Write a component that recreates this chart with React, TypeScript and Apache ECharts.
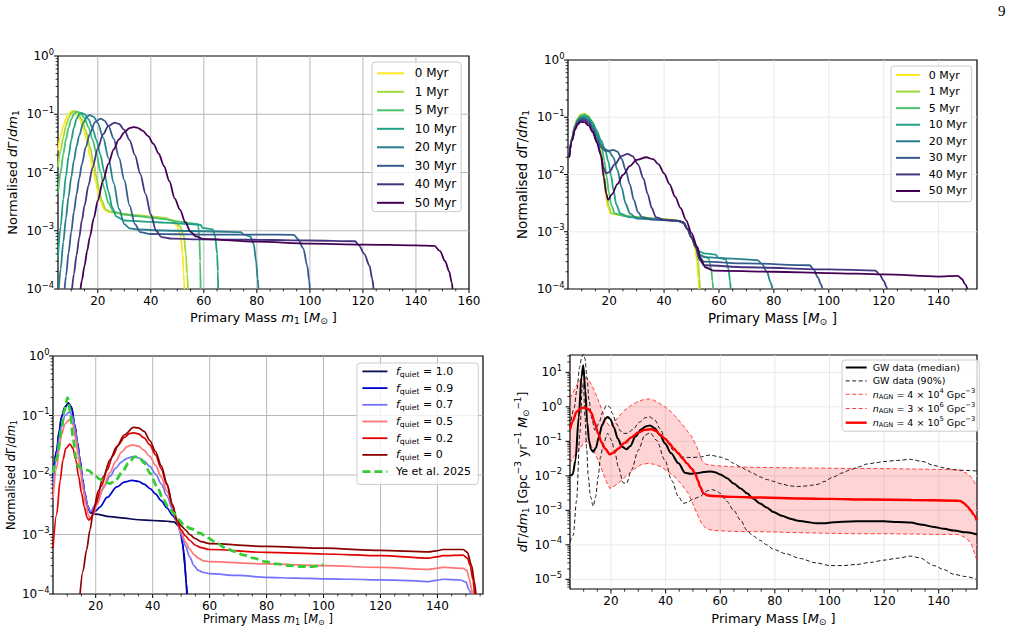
import React, { useEffect, useRef } from 'react';
import * as echarts from 'echarts';

type Pt = [number, number];

const FONT = 'DejaVu Sans';

// ---------------- Top-left: single-peak model, several AGN ages ----------------
const AGE_LABELS = ['0 Myr', '1 Myr', '5 Myr', '10 Myr', '20 Myr', '30 Myr', '40 Myr', '50 Myr'];
const AGE_COLORS = ['#fde725', '#a0da39', '#4ac16d', '#1fa187', '#277f8e', '#365c8d', '#46327e', '#440154'];

const ageA0: Pt[] = [[5, 0.024], [6, 0.042], [7, 0.062], [8, 0.083], [9, 0.102], [10.4, 0.114], [11.5, 0.108], [13, 0.087], [14.5, 0.058], [16, 0.033], [17.2, 0.018], [18.2, 0.011], [19.2, 0.0071], [20.2, 0.0044], [21.2, 0.0031], [22.5, 0.0023], [24, 0.0021], [30, 0.0019], [35, 0.0018], [40, 0.00174], [45, 0.00166], [47.8, 0.0015], [50, 0.0012], [51.3, 0.0008], [52, 0.0004], [52.4, 0.00018], [52.7, 0.0001]];
const ageA1: Pt[] = [[5, 0.0125], [6, 0.024], [7, 0.041], [8, 0.063], [9, 0.086], [10, 0.105], [11.2, 0.114], [12.5, 0.106], [14, 0.082], [15.5, 0.052], [17, 0.028], [18.5, 0.014], [19.5, 0.0083], [20.5, 0.005], [21.5, 0.0033], [23, 0.0023], [25, 0.0021], [30, 0.00195], [35, 0.00185], [40, 0.00176], [45, 0.00166], [48.5, 0.0015], [51, 0.0012], [52.5, 0.0008], [53.2, 0.0004], [53.7, 0.00018], [54, 0.0001]];
const ageA5: Pt[] = [[5, 0.0044], [6, 0.0102], [7, 0.0207], [8, 0.037], [9, 0.059], [10, 0.082], [11, 0.101], [12.2, 0.111], [13.5, 0.105], [15, 0.086], [16.5, 0.06], [18, 0.037], [19.5, 0.021], [21, 0.0103], [22.5, 0.0052], [24, 0.003], [26, 0.0021], [30, 0.0019], [35, 0.00178], [40, 0.00168], [45, 0.00158], [50, 0.00145], [55, 0.00135], [57.8, 0.0013], [58.3, 0.0008], [58.6, 0.0003], [58.8, 0.0001]];
const ageA10: Pt[] = [[5, 0.00035], [6, 0.0012], [7, 0.0035], [8, 0.0088], [9, 0.019], [10, 0.036], [11, 0.059], [12, 0.083], [13, 0.1], [13.8, 0.105], [15, 0.1], [16.5, 0.082], [18, 0.058], [19.5, 0.036], [21, 0.02], [22.5, 0.0099], [24, 0.0047], [25.5, 0.0025], [27, 0.00175], [30, 0.0015], [35, 0.00146], [40, 0.00142], [45, 0.00138], [50, 0.00134], [55, 0.0013], [58.8, 0.00126], [59.5, 0.00112], [63.3, 0.00106], [64.3, 0.0008], [65, 0.0004], [65.3, 0.0002], [65.4, 0.0001]];
const ageA20: Pt[] = [[5.3, 0.0001], [6, 0.00022], [7, 0.00064], [8, 0.00165], [9, 0.0039], [10, 0.0083], [11, 0.016], [12, 0.028], [13, 0.043], [14.5, 0.071], [16, 0.092], [17, 0.097], [18.5, 0.09], [20, 0.0705], [22, 0.04], [24, 0.018], [26, 0.0066], [28, 0.0024], [30, 0.0013], [32, 0.0011], [35, 0.00105], [45, 0.00101], [55, 0.00099], [65, 0.00097], [74, 0.00095], [75, 0.00086], [77.5, 0.0008], [78.8, 0.0006], [79.7, 0.0003], [80.3, 0.00015], [80.6, 0.0001]];
const ageA30: Pt[] = [[7.5, 0.0001], [8, 0.000165], [9, 0.00042], [10, 0.00096], [11, 0.0021], [12, 0.0042], [13, 0.0079], [14, 0.0138], [15.5, 0.0275], [17, 0.046], [19, 0.073], [21, 0.084], [22.5, 0.078], [24, 0.063], [26, 0.038], [28, 0.018], [30, 0.0074], [32, 0.0027], [34, 0.0013], [36, 0.00095], [40, 0.00088], [50, 0.00087], [60, 0.00086], [80, 0.00086], [94, 0.00085], [95.5, 0.00072], [97.5, 0.0005], [99, 0.00025], [99.7, 0.00014], [100, 0.0001]];
const ageA40: Pt[] = [[10.3, 0.0001], [11, 0.00018], [12, 0.00038], [13, 0.00076], [14, 0.0015], [15, 0.0027], [16.5, 0.006], [18, 0.012], [20, 0.026], [22, 0.045], [24, 0.063], [26.4, 0.072], [28, 0.068], [30, 0.054], [32, 0.036], [34, 0.02], [36, 0.0096], [38, 0.0043], [40, 0.0019], [42, 0.001], [44, 0.00078], [48, 0.00073], [60, 0.00071], [80, 0.0007], [100, 0.00068], [117, 0.00066], [118.5, 0.00056], [120.5, 0.0004], [122.5, 0.00025], [123.5, 0.00015], [124, 0.0001]];
const ageA50: Pt[] = [[13.5, 0.0001], [14, 0.00014], [15, 0.00025], [16, 0.00045], [17, 0.00078], [18.5, 0.00165], [20, 0.0033], [22, 0.0073], [24, 0.014], [26, 0.025], [28, 0.037], [30, 0.049], [32, 0.058], [33.5, 0.06], [35, 0.0585], [37, 0.052], [39, 0.042], [41, 0.031], [43, 0.021], [45, 0.0128], [47, 0.0071], [49, 0.0036], [51, 0.0023], [53, 0.0014], [55, 0.00096], [57, 0.0008], [60, 0.00072], [80, 0.00065], [100, 0.0006], [120, 0.00058], [140, 0.00056], [147, 0.00055], [149, 0.00045], [151, 0.0003], [152.5, 0.0002], [153.5, 0.00013], [153.8, 0.0001]];
const AGES_A = [ageA0, ageA1, ageA5, ageA10, ageA20, ageA30, ageA40, ageA50];

// ---------------- Top-right: two-peak model, several AGN ages ----------------
const ageB0: Pt[] = [[5.4, 0.02], [6.5, 0.045], [7.5, 0.072], [8.5, 0.095], [9.5, 0.11], [10.8, 0.116], [12, 0.108], [13.3, 0.088], [14.5, 0.066], [15.5, 0.047], [16.5, 0.03], [17.3, 0.017], [18, 0.0085], [18.7, 0.0045], [19.5, 0.0027], [20.5, 0.0021], [23, 0.002], [30, 0.0018], [40, 0.00166], [45, 0.00158], [47, 0.00145], [48.5, 0.00112], [50, 0.0008], [51.2, 0.00055], [52, 0.0003], [52.5, 0.00015], [52.7, 0.0001]];
const ageB1: Pt[] = [[5.4, 0.02], [6.5, 0.045], [7.5, 0.072], [8.5, 0.094], [9.5, 0.109], [11, 0.115], [12.2, 0.107], [13.5, 0.088], [14.7, 0.066], [15.7, 0.047], [16.7, 0.03], [17.6, 0.017], [18.3, 0.0088], [19, 0.0047], [19.8, 0.0028], [20.8, 0.0021], [24, 0.00195], [30, 0.0018], [40, 0.00165], [45, 0.00157], [47, 0.00145], [48.5, 0.00112], [50, 0.0008], [51.5, 0.00055], [52.4, 0.0003], [52.9, 0.00015], [53.1, 0.0001]];
const ageB5: Pt[] = [[5.4, 0.02], [6.5, 0.044], [7.5, 0.07], [8.5, 0.091], [9.5, 0.105], [11, 0.11], [12.3, 0.103], [13.6, 0.085], [15, 0.063], [16.2, 0.046], [17.3, 0.03], [18.3, 0.017], [19.1, 0.009], [19.9, 0.0048], [20.8, 0.0029], [22, 0.0021], [25, 0.0019], [30, 0.00178], [40, 0.00164], [45, 0.00156], [47, 0.00145], [48.5, 0.00112], [50, 0.0008], [51.5, 0.00055], [53, 0.0004], [54.5, 0.00037], [56.3, 0.00034], [57.2, 0.00022], [57.6, 0.00014], [57.9, 0.0001]];
const ageB10: Pt[] = [[5.4, 0.02], [6.5, 0.043], [7.5, 0.068], [8.5, 0.088], [9.5, 0.1], [11, 0.105], [12.5, 0.098], [14, 0.08], [15.5, 0.058], [17, 0.04], [18.5, 0.027], [19.7, 0.017], [20.7, 0.0095], [21.6, 0.0052], [22.6, 0.003], [24, 0.0021], [27, 0.0018], [35, 0.0017], [45, 0.00155], [47, 0.00145], [48.5, 0.00112], [50, 0.0008], [51.5, 0.00058], [53, 0.00045], [54.5, 0.00042], [58.8, 0.0004], [59.8, 0.00035], [62.5, 0.00033], [63.5, 0.00022], [64, 0.00014], [64.3, 0.0001]];
const ageB20: Pt[] = [[5.4, 0.02], [6.5, 0.042], [7.5, 0.066], [8.5, 0.085], [9.5, 0.096], [11, 0.098], [12.5, 0.09], [14, 0.07], [15.5, 0.048], [17, 0.034], [18.5, 0.028], [20, 0.025], [21.5, 0.02], [23, 0.012], [24.5, 0.006], [26, 0.0031], [27.5, 0.0021], [30, 0.0017], [35, 0.00165], [45, 0.00155], [47, 0.00145], [48.5, 0.00112], [50, 0.0008], [51.5, 0.00058], [53, 0.0004], [54.5, 0.00036], [65, 0.00034], [74, 0.00032], [75.5, 0.00028], [77.5, 0.0002], [78.8, 0.00013], [79.5, 0.0001]];
const ageB30: Pt[] = [[5.4, 0.02], [6.5, 0.041], [7.5, 0.064], [8.5, 0.082], [9.5, 0.092], [11, 0.093], [12.5, 0.085], [14, 0.064], [15.5, 0.042], [17, 0.03], [18.5, 0.026], [20, 0.026], [21.5, 0.027], [23, 0.025], [24.5, 0.019], [26, 0.012], [27.5, 0.0068], [29, 0.0036], [30.5, 0.0022], [32, 0.0018], [35, 0.00165], [45, 0.00155], [47, 0.00145], [48.5, 0.00112], [50, 0.0008], [51.5, 0.00056], [53, 0.00036], [54.5, 0.0003], [70, 0.00028], [93, 0.00026], [94.5, 0.00022], [96, 0.00016], [97.2, 0.00012], [97.7, 0.0001]];
const ageB40: Pt[] = [[5.4, 0.02], [6.5, 0.04], [7.5, 0.062], [8.5, 0.079], [9.5, 0.087], [11, 0.088], [12.5, 0.078], [14, 0.058], [15.5, 0.038], [17, 0.022], [18, 0.013], [18.8, 0.0105], [20, 0.011], [22, 0.015], [24.5, 0.021], [26.7, 0.023], [28.5, 0.021], [30.5, 0.015], [32.5, 0.0085], [34, 0.0046], [35.5, 0.0026], [37, 0.0018], [40, 0.0016], [45, 0.00155], [47, 0.00145], [48.5, 0.00112], [50, 0.0008], [51.5, 0.00054], [53, 0.00032], [54.5, 0.00026], [70, 0.00024], [100, 0.00022], [117, 0.00021], [118.5, 0.00018], [120, 0.00014], [121, 0.00011], [121.2, 0.0001]];
const ageB50: Pt[] = [[5.4, 0.02], [6.5, 0.039], [7.5, 0.06], [8.5, 0.075], [9.5, 0.082], [11, 0.082], [12.5, 0.072], [14, 0.055], [15.5, 0.036], [17, 0.022], [18, 0.009], [19, 0.0045], [19.6, 0.0036], [21, 0.0045], [23, 0.0068], [25, 0.0098], [27.5, 0.014], [30, 0.018], [33.5, 0.02], [36, 0.0185], [38, 0.015], [40, 0.0105], [42, 0.0068], [44, 0.0041], [46, 0.0026], [48, 0.0016], [50, 0.00095], [52, 0.00055], [53.5, 0.00032], [55, 0.00024], [58, 0.00021], [80, 0.0002], [100, 0.00019], [120, 0.00018], [140, 0.000165], [147, 0.00017], [148.5, 0.00015], [149.7, 0.00012], [150.5, 0.0001]];
const AGES_B = [ageB0, ageB1, ageB5, ageB10, ageB20, ageB30, ageB40, ageB50];

// ---------------- Bottom-left: mixture with quiet fraction ----------------
const FQ_LABELS = ['1.0', '0.9', '0.7', '0.5', '0.2', '0'];
const FQ_COLORS = ['#0b0b55', '#0000cc', '#7272ff', '#ff7474', '#e00000', '#8b0000'];

const fq10: Pt[] = [[5, 0.0093], [6.3, 0.026], [7.2, 0.055], [8, 0.095], [9.2, 0.14], [10.4, 0.163], [11.5, 0.14], [12.7, 0.068], [13.6, 0.035], [14.5, 0.018], [15.4, 0.0085], [16.2, 0.0049], [17.1, 0.0031], [18.2, 0.0023], [20, 0.0022], [25, 0.002], [30, 0.00188], [35, 0.00177], [40, 0.00172], [45, 0.00167], [47.5, 0.00163], [49, 0.0014], [50, 0.001], [51, 0.0005], [51.7, 0.00018], [52, 0.0001]];
const fq09: Pt[] = [[5, 0.0093], [6.3, 0.026], [7.2, 0.055], [8, 0.094], [9.2, 0.138], [10.4, 0.158], [11.5, 0.135], [12.7, 0.066], [13.6, 0.034], [14.5, 0.0175], [15.4, 0.0083], [16.2, 0.0048], [17.1, 0.003], [18.2, 0.0023], [20, 0.0025], [21.5, 0.0029], [24, 0.0042], [27.4, 0.0063], [30, 0.0076], [32.7, 0.0081], [35, 0.0078], [37, 0.007], [39.1, 0.0059], [41, 0.0048], [43, 0.0037], [45, 0.0028], [47, 0.0021], [48.4, 0.0017], [49.5, 0.0013], [50.5, 0.0007], [51.3, 0.0003], [51.8, 0.00015], [52.1, 0.0001]];
const fq07: Pt[] = [[5, 0.007], [6.3, 0.02], [7.2, 0.042], [8, 0.068], [9.2, 0.1], [10.8, 0.115], [12, 0.094], [12.9, 0.055], [13.8, 0.028], [14.7, 0.014], [15.5, 0.0075], [16.3, 0.0045], [17.2, 0.003], [18.2, 0.0024], [19.5, 0.003], [21, 0.0042], [23, 0.0065], [25, 0.0095], [27, 0.013], [29, 0.0165], [31, 0.019], [33, 0.0203], [35, 0.0195], [37, 0.0172], [39, 0.014], [41, 0.0104], [43, 0.0071], [45, 0.0045], [47, 0.0026], [48.5, 0.00165], [50, 0.001], [51.5, 0.00065], [53, 0.00042], [54.5, 0.0003], [56, 0.00025], [58, 0.00023], [60, 0.00022], [70, 0.000205], [80, 0.00019], [90, 0.000185], [100, 0.00018], [110, 0.000177], [120, 0.000173], [130, 0.000168], [137, 0.000162], [139.5, 0.00017], [142, 0.000177], [148, 0.000172], [150, 0.00016], [151, 0.00012], [151.8, 0.0001]];
const fq05: Pt[] = [[5, 0.004], [6.3, 0.013], [7.2, 0.03], [8, 0.048], [9.2, 0.072], [10.8, 0.085], [12, 0.07], [12.9, 0.042], [13.8, 0.022], [14.7, 0.011], [15.6, 0.0055], [16.5, 0.0032], [17.5, 0.0021], [18, 0.0019], [19, 0.0021], [20.5, 0.0032], [22.5, 0.0058], [25, 0.011], [27, 0.017], [29, 0.024], [31, 0.03], [33, 0.032], [35, 0.0305], [37, 0.026], [39, 0.0205], [41, 0.0145], [43, 0.0093], [45, 0.0054], [47, 0.0029], [48.5, 0.00165], [50, 0.0011], [51.5, 0.00075], [53, 0.00057], [54.5, 0.00046], [56, 0.0004], [58, 0.00036], [60, 0.00035], [80, 0.00032], [100, 0.0003], [120, 0.00028], [137, 0.00026], [139.5, 0.00027], [142, 0.00028], [149, 0.00027], [150.3, 0.00025], [151.2, 0.00018], [152, 0.00012], [152.3, 0.0001]];
const fq02: Pt[] = [[5, 0.0006], [6.3, 0.0022], [7.5, 0.008], [8.5, 0.018], [9.5, 0.028], [11, 0.033], [12, 0.028], [13, 0.018], [14, 0.0095], [15, 0.005], [16, 0.0029], [17, 0.0019], [17.6, 0.00175], [18.5, 0.0019], [20, 0.0032], [22, 0.0065], [24, 0.012], [26, 0.021], [28, 0.032], [30, 0.043], [32, 0.05], [33.5, 0.051], [35, 0.049], [37, 0.042], [39, 0.032], [41, 0.0218], [43, 0.0128], [45, 0.0068], [47, 0.0032], [48.5, 0.00165], [50, 0.0012], [51.5, 0.00095], [53, 0.0008], [55, 0.00066], [57, 0.0006], [60, 0.00056], [80, 0.0005], [100, 0.00047], [120, 0.00044], [137, 0.0004], [139.5, 0.00042], [142, 0.00044], [149, 0.00045], [150.5, 0.0004], [151.5, 0.0003], [152.5, 0.00017], [153, 0.0001]];
const fq00: Pt[] = [[14.5, 0.0001], [15.5, 0.00024], [16.8, 0.00055], [18, 0.0012], [19.2, 0.0026], [21, 0.0055], [22.7, 0.0094], [25, 0.018], [27.4, 0.03], [30, 0.047], [33.3, 0.063], [35, 0.062], [37, 0.054], [39, 0.038], [41, 0.0248], [43, 0.0144], [45, 0.0072], [47, 0.003], [48.5, 0.0018], [50, 0.0014], [51.5, 0.0012], [53, 0.001], [55, 0.00085], [57, 0.00076], [60, 0.0007], [80, 0.00063], [100, 0.00059], [120, 0.00054], [137, 0.00051], [139.5, 0.00053], [142, 0.00056], [149, 0.00056], [150.5, 0.0005], [152, 0.0003], [153, 0.00016], [153.5, 0.0001]];
const FQ_SERIES = [fq10, fq09, fq07, fq05, fq02, fq00];
const yeEtAl2025: Pt[] = [[5, 0.0107], [6.5, 0.02], [8, 0.06], [9, 0.12], [10.1, 0.2], [11, 0.12], [12, 0.045], [13, 0.02], [13.9, 0.0138], [15.5, 0.0128], [17.4, 0.012], [19.5, 0.01], [21.5, 0.0085], [23.5, 0.0075], [25, 0.0072], [27, 0.0082], [29.5, 0.0115], [31.5, 0.016], [33.8, 0.0204], [35.5, 0.019], [37, 0.016], [39.1, 0.0107], [41.5, 0.0064], [43.8, 0.0038], [45.5, 0.0029], [47.3, 0.0023], [49, 0.0018], [50.9, 0.00145], [53.5, 0.00125], [56.7, 0.00105], [59.5, 0.00087], [62.6, 0.00071], [65.5, 0.0006], [68.5, 0.00052], [72, 0.00045], [75.5, 0.0004], [79.5, 0.00035], [83.7, 0.00032], [88, 0.0003], [92, 0.00029], [96, 0.00029], [100, 0.00031]];

// ---------------- Bottom-right: GW population vs AGN density ----------------
const gwMedian: Pt[] = [[5, 0.0098], [6, 0.011], [7, 0.028], [8.2, 0.5], [9.2, 7.4], [9.85, 16], [10.6, 3], [11.3, 0.35], [12, 0.1], [12.7, 0.058], [13.5, 0.05], [14.5, 0.065], [15.5, 0.13], [16.8, 0.3], [18, 0.46], [18.8, 0.51], [19.8, 0.44], [21, 0.26], [22.5, 0.12], [24, 0.07], [25.7, 0.059], [27, 0.072], [29, 0.14], [31, 0.22], [32.7, 0.27], [34.3, 0.29], [36, 0.24], [38, 0.15], [39.8, 0.087], [42, 0.045], [44.7, 0.023], [47.1, 0.0123], [49, 0.0115], [51.4, 0.0118], [54, 0.013], [56.3, 0.0134], [58, 0.0128], [60, 0.011], [62.5, 0.0085], [64.9, 0.006], [67.5, 0.0043], [69.8, 0.0031], [72, 0.0022], [74.6, 0.00158], [77, 0.0012], [79.5, 0.00089], [82.5, 0.0007], [85.6, 0.00057], [88.5, 0.0005], [91.8, 0.00046], [95, 0.00042], [98, 0.00042], [101.5, 0.00045], [105, 0.00047], [110, 0.00048], [115, 0.00048], [120, 0.00048], [125, 0.00046], [129.7, 0.00044], [134, 0.00038], [138.2, 0.00033], [142, 0.00029], [145.5, 0.00026], [150, 0.00023], [154, 0.0002]];
const gwLow90: Pt[] = [[5, 0.00012], [6.2, 0.00019], [7.4, 0.0019], [8.6, 0.17], [9.5, 3.5], [9.9, 4.8], [10.5, 0.5], [11.1, 0.06], [11.7, 0.0093], [12.5, 0.0025], [13.5, 0.0013], [14.4, 0.0025], [15.3, 0.0093], [16.2, 0.035], [17.2, 0.087], [18.8, 0.17], [20.2, 0.107], [21.5, 0.045], [22.7, 0.018], [24.5, 0.0063], [25.7, 0.006], [27.5, 0.0148], [30, 0.055], [32.4, 0.15], [34.3, 0.178], [36.7, 0.107], [39.8, 0.028], [42.2, 0.0074], [44.7, 0.0025], [46.5, 0.0016], [48, 0.0017], [50, 0.0021], [52.6, 0.0025], [55, 0.0036], [56.9, 0.004], [58.5, 0.0037], [60, 0.0031], [62.5, 0.0018], [64.9, 0.001], [67.5, 0.00051], [69.8, 0.00026], [72, 0.00018], [74.6, 0.000135], [77, 0.0001], [79.5, 0.000074], [84, 0.000055], [89.3, 0.00004], [95, 0.00003], [100.3, 0.000025], [105, 0.000025], [110, 0.000027], [115, 0.000031], [120, 0.000036], [125, 0.000041], [129.7, 0.000047], [133, 0.000042], [138.2, 0.000025], [142, 0.000019], [145.5, 0.000014], [150, 0.000012], [154, 0.0000098]];
const gwHigh90: Pt[] = [[5, 0.26], [6.5, 0.9], [7.5, 3], [8.5, 14], [9.3, 28], [9.9, 34], [10.5, 25], [11.2, 7], [12, 1.5], [13, 0.45], [14.1, 0.21], [15.5, 0.32], [17, 0.7], [18.4, 1.12], [19.5, 1.0], [20.5, 0.65], [22, 0.32], [23.5, 0.2], [24.5, 0.17], [26, 0.17], [28, 0.22], [30.5, 0.36], [32.5, 0.48], [34, 0.52], [36, 0.42], [38, 0.23], [40, 0.11], [42.9, 0.055], [45.9, 0.035], [49, 0.034], [52.6, 0.035], [56.3, 0.04], [60, 0.035], [62.5, 0.03], [64.9, 0.023], [67.5, 0.018], [69.8, 0.0145], [72, 0.0118], [74.6, 0.0093], [77, 0.0078], [79.5, 0.0069], [82.5, 0.0058], [85.6, 0.0051], [88, 0.0049], [90.5, 0.005], [93, 0.0053], [95.4, 0.0056], [98, 0.0068], [101.5, 0.0093], [104.5, 0.012], [107.7, 0.015], [110.5, 0.018], [113.8, 0.022], [117, 0.024], [119.9, 0.026], [125, 0.028], [129.7, 0.03], [134, 0.026], [138.2, 0.02], [142, 0.017], [145.5, 0.015], [150, 0.0143], [154, 0.0138]];
const agnLow: Pt[] = [[5, 0.023], [6.5, 0.037], [8.2, 0.055], [9.8, 0.085], [11.1, 0.098], [12.5, 0.08], [14, 0.045], [15.3, 0.028], [16.8, 0.014], [18.3, 0.0068], [19.6, 0.0043], [21.5, 0.0052], [23.9, 0.0074], [26.5, 0.0115], [28.8, 0.0162], [31, 0.021], [33.6, 0.023], [36, 0.0215], [38.5, 0.018], [41, 0.013], [43.4, 0.0093], [46, 0.0055], [48.3, 0.0031], [50.2, 0.0014], [51.5, 0.0008], [53.2, 0.00041], [55, 0.00029], [57.5, 0.00026], [64.9, 0.000245], [75, 0.00024], [89.3, 0.000225], [100, 0.000215], [110, 0.00021], [120, 0.00021], [130, 0.000205], [140, 0.0002], [146.8, 0.0002], [148.5, 0.00018], [150.4, 0.00015], [152, 0.0001], [153, 0.00006], [154, 0.000035]];
const agnHigh: Pt[] = [[5, 1.76], [6.5, 3], [8.2, 5.5], [9.5, 6.8], [10.5, 7.1], [11.5, 6.5], [13, 4.2], [15.3, 1.6], [17, 0.7], [18.4, 0.37], [19.6, 0.26], [21, 0.35], [22.7, 0.51], [25, 0.8], [27.5, 1.12], [30, 1.45], [32.4, 1.66], [34, 1.7], [35.5, 1.58], [37.5, 1.3], [39.8, 1.0], [42, 0.72], [44.7, 0.42], [47, 0.25], [49.6, 0.135], [51.4, 0.07], [52.3, 0.045], [53.3, 0.028], [54.5, 0.022], [57.5, 0.02], [64.9, 0.0182], [75, 0.0175], [89.3, 0.017], [100, 0.0166], [110, 0.0163], [120, 0.0162], [130, 0.0158], [140, 0.0153], [146.8, 0.0151], [148.5, 0.0137], [150.4, 0.0117], [152, 0.009], [153, 0.0067], [154, 0.0048]];
const agnMid: Pt[] = [[5, 0.22], [6, 0.38], [7.4, 0.72], [9, 0.92], [10.5, 0.95], [11.8, 0.85], [12.9, 0.65], [14, 0.35], [15.3, 0.17], [16.5, 0.095], [17.8, 0.062], [19.6, 0.042], [21, 0.047], [22.7, 0.062], [25, 0.09], [27.5, 0.13], [30, 0.18], [32.4, 0.215], [34.8, 0.224], [36.5, 0.2], [38, 0.155], [39.8, 0.12], [41.5, 0.085], [42.9, 0.062], [44.7, 0.045], [46.2, 0.032], [47.8, 0.023], [49.6, 0.016], [50.8, 0.0117], [51.8, 0.0075], [52.6, 0.0048], [53.9, 0.0031], [55.5, 0.0027], [57.5, 0.0026], [64.9, 0.00245], [75, 0.00235], [89.3, 0.0022], [100, 0.00215], [113.8, 0.00205], [130, 0.002], [146.8, 0.0019], [148, 0.00185], [149.2, 0.0016], [150.5, 0.0013], [151.7, 0.001], [152.8, 0.00075], [153.9, 0.00051]];

// ---------------- layout of the four panels ----------------
interface Panel {
  left: number; top: number; width: number; height: number;
  x: [number, number]; y: [number, number]; grid: string; tickLen: number;
}
const PANELS: Panel[] = [
  { left: 58, top: 56, width: 411, height: 233, x: [5, 160], y: [1e-4, 1], grid: '#b0b0b0', tickLen: 4 },
  { left: 568, top: 60, width: 409, height: 229, x: [5, 154], y: [1e-4, 1], grid: '#e6e6e6', tickLen: 4 },
  { left: 53, top: 356, width: 430, height: 238, x: [5, 156], y: [1e-4, 1], grid: '#b0b0b0', tickLen: 4 },
  { left: 570, top: 355, width: 407, height: 234, x: [5, 154], y: [5.24e-6, 31.8], grid: '#e6e6e6', tickLen: 4.5 },
];

function richSet(fs: number) {
  const s = Math.round(fs * 7) / 10;
  return {
    n: { fontFamily: FONT, fontSize: fs, color: '#000' },
    i: { fontFamily: FONT, fontSize: fs, fontStyle: 'italic', color: '#000' },
    sup: { fontFamily: FONT, fontSize: s, color: '#000', padding: [0, 0, Math.round(fs * 0.75), 0] },
    sub: { fontFamily: FONT, fontSize: s, color: '#000', padding: [Math.round(fs * 0.5), 0, 0, 0] },
  };
}

function powLabel(v: number): string {
  const e = Math.log10(v);
  const r = Math.round(e);
  if (Math.abs(e - r) > 1e-6) return '';
  const exp = r < 0 ? '\u2212' + String(-r) : String(r);
  return `{n|10}{sup|${exp}}`;
}

const NAME_X_M1 = '{n|Primary Mass }{i|m}{sub|1}{n| [}{i|M}{sub|\u2299}{n| ]}';
const NAME_X_PLAIN = '{n|Primary Mass [}{i|M}{sub|\u2299}{n| ]}';
const NAME_Y_NORM = '{n|Normalised }{i|d}{n|\u0393/}{i|dm}{sub|1}';
const NAME_Y_RATE = '{i|d}{n|\u0393/}{i|dm}{sub|1}{n| [Gpc}{sup|\u22123}{n| yr}{sup|\u22121}{n| }{i|M}{sub|\u2299}{sup|\u22121}{n|]}';

// legend texts; rows without scripts carry an empty script token so every row has the same height
const LEGEND_TEXT: Record<string, string> = {};
AGE_LABELS.forEach((l) => {
  LEGEND_TEXT['A ' + l] = `{n|${l}}`;
  LEGEND_TEXT['B ' + l] = `{n|${l}}`;
});
FQ_LABELS.forEach((v) => {
  LEGEND_TEXT['C f' + v] = `{i|f}{sub|quiet}{n| = ${v}}`;
});
LEGEND_TEXT['C Ye'] = '{n|Ye et al. 2025}{sub| }';
LEGEND_TEXT['D med'] = '{n|GW data (median)}{sup| }';
LEGEND_TEXT['D ci'] = '{n|GW data (90%)}{sup| }';
LEGEND_TEXT['D lo'] = '{i|n}{sub|AGN}{n| = 4 \u00d7 10}{sup|4}{n| Gpc}{sup|\u22123}';
LEGEND_TEXT['D hi'] = '{i|n}{sub|AGN}{n| = 3 \u00d7 10}{sup|6}{n| Gpc}{sup|\u22123}';
LEGEND_TEXT['D mid'] = '{i|n}{sub|AGN}{n| = 4 \u00d7 10}{sup|5}{n| Gpc}{sup|\u22123}';

// gridlines (under the curves) and outward ticks, placed through the axes' own scales
function decorSeries(gi: number, p: Panel): any[] {
  const [x0, x1] = p.x;
  const [y0, y1] = p.y;
  const e0 = Math.floor(Math.log10(y0));
  const e1 = Math.ceil(Math.log10(y1));
  const near = (a: number, b: number) => Math.abs(a - b) < 1e-9 * Math.max(1, Math.abs(b));
  const gridLines = {
    type: 'custom', name: 'gridlines-' + gi, xAxisIndex: gi, yAxisIndex: gi, z: 1, silent: true, clip: false,
    data: [[x0, y0]],
    renderItem: (_params: any, api: any) => {
      const ch: any[] = [];
      const style = { stroke: p.grid, lineWidth: 0.9 };
      for (let m = 20; m < x1; m += 20) {
        if (m <= x0) continue;
        const a = api.coord([m, y0]);
        const b = api.coord([m, y1]);
        ch.push({ type: 'line', shape: { x1: a[0], y1: a[1], x2: b[0], y2: b[1] }, style });
      }
      for (let e = e0; e <= e1; e++) {
        const v = Math.pow(10, e);
        if (v <= y0 * 1.0001 || v >= y1 * 0.9999) continue;
        const a = api.coord([x0, v]);
        const b = api.coord([x1, v]);
        ch.push({ type: 'line', shape: { x1: a[0], y1: a[1], x2: b[0], y2: b[1] }, style });
      }
      return { type: 'group', children: ch };
    },
  };
  const ticks = {
    type: 'custom', name: 'ticks-' + gi, xAxisIndex: gi, yAxisIndex: gi, z: 3, silent: true, clip: false,
    data: [[x0, y0]],
    renderItem: (_params: any, api: any) => {
      const ch: any[] = [];
      const major = p.tickLen;
      const minor = p.tickLen * 0.6;
      for (let m = Math.ceil(x0 / 5) * 5; m <= x1 + 1e-9; m += 5) {
        const isMajor = m % 20 === 0;
        if ((near(m, x0) || near(m, x1)) && !isMajor) continue;
        const a = api.coord([m, y0]);
        const len = isMajor ? major : minor;
        ch.push({ type: 'line', shape: { x1: a[0], y1: a[1], x2: a[0], y2: a[1] + len }, style: { stroke: '#000', lineWidth: isMajor ? 1 : 0.8 } });
      }
      for (let e = e0; e <= e1; e++) {
        for (let k = 1; k <= 9; k++) {
          const v = k * Math.pow(10, e);
          if (v < y0 * 0.9999 || v > y1 * 1.0001) continue;
          const a = api.coord([x0, v]);
          const len = k === 1 ? major : minor;
          ch.push({ type: 'line', shape: { x1: a[0] - len, y1: a[1], x2: a[0], y2: a[1] }, style: { stroke: '#000', lineWidth: k === 1 ? 1 : 0.8 } });
        }
      }
      return { type: 'group', children: ch };
    },
  };
  return [gridLines, ticks];
}

function lineSeries(name: string, gi: number, data: Pt[], color: string, width: number, dash?: number[], smooth: number | boolean = 0.3) {
  return {
    type: 'line', name, xAxisIndex: gi, yAxisIndex: gi, data,
    showSymbol: false, symbol: 'none', smooth, smoothMonotone: 'x', clip: true, z: 2,
    itemStyle: { color }, lineStyle: { color, width, type: dash || 'solid' },
    emphasis: { disabled: true },
  };
}

function bandSeries(gi: number, hi: Pt[], lo: Pt[]) {
  return {
    type: 'custom', name: 'agn-band', xAxisIndex: gi, yAxisIndex: gi, z: 1, silent: true, clip: true,
    data: [[hi[0][0], hi[0][1]]],
    renderItem: (_params: any, api: any) => {
      const pts = hi.map((q) => api.coord(q)).concat(lo.slice().reverse().map((q) => api.coord(q)));
      return { type: 'polygon', shape: { points: pts }, style: { fill: 'rgba(255,0,0,0.17)', stroke: 'none' } };
    },
  };
}

type LegendEntry = { name: string; width: number };

function legendBox(entries: LegendEntry[], o: { left: number; top: number; itemWidth: number; itemHeight: number; itemGap: number; padding: number[]; fontSize: number; gap: number }) {
  return {
    orient: 'vertical', left: o.left, top: o.top, selectedMode: false,
    data: entries.map((e) => ({ name: e.name, lineStyle: { width: e.width } })),
    itemWidth: o.itemWidth, itemHeight: o.itemHeight, itemGap: o.itemGap, padding: o.padding,
    backgroundColor: 'rgba(255,255,255,0.8)', borderColor: '#cccccc', borderWidth: 1, borderRadius: 3,
    itemStyle: { opacity: 0 },
    formatter: (name: string) => `{gap| }${LEGEND_TEXT[name]}`,
    textStyle: { fontFamily: FONT, fontSize: o.fontSize, color: '#000', rich: { ...richSet(o.fontSize), gap: { width: o.gap } } },
  };
}

function buildOption() {
  const xNames = [NAME_X_M1, NAME_X_PLAIN, NAME_X_M1, NAME_X_PLAIN];
  const xNameGap = [20, 20, 17, 21];
  const xNameSize = [13, 13.5, 11.5, 13];
  const yNames = [NAME_Y_NORM, NAME_Y_NORM, NAME_Y_NORM, NAME_Y_RATE];
  const yNameGap = [38, 38, 33, 36];
  const yNameSize = [13, 13.5, 11.5, 12.5];
  const yLabelMargin = [4, 3.5, 3.5, 8];

  const grid = PANELS.map((p) => ({
    left: p.left, top: p.top, width: p.width, height: p.height, containLabel: false,
    show: true, borderColor: '#000', borderWidth: 1.2, backgroundColor: 'transparent',
  }));

  const xAxis = PANELS.map((p, gi) => ({
    type: 'value', gridIndex: gi, min: p.x[0], max: p.x[1], splitNumber: 7,
    axisLine: { show: false }, axisTick: { show: false }, minorTick: { show: false }, splitLine: { show: false },
    axisLabel: { margin: 6, showMinLabel: false, showMaxLabel: p.x[1] % 20 === 0, fontFamily: FONT, fontSize: 12, color: '#000' },
    name: xNames[gi], nameLocation: 'middle', nameGap: xNameGap[gi],
    nameTextStyle: { rich: richSet(xNameSize[gi]) },
  }));

  const yAxis = PANELS.map((p, gi) => ({
    type: 'log', logBase: 10, gridIndex: gi, min: p.y[0], max: p.y[1],
    axisLine: { show: false }, axisTick: { show: false }, minorTick: { show: false }, splitLine: { show: false },
    axisLabel: { margin: yLabelMargin[gi], formatter: powLabel, showMinLabel: true, showMaxLabel: true, rich: richSet(12) },
    name: yNames[gi], nameLocation: 'middle', nameRotate: 90, nameGap: yNameGap[gi],
    nameTextStyle: { rich: richSet(yNameSize[gi]) },
  }));

  const series: any[] = [];
  PANELS.forEach((p, gi) => series.push(...decorSeries(gi, p)));
  AGES_A.forEach((d, k) => series.push(lineSeries('A ' + AGE_LABELS[k], 0, d, AGE_COLORS[k], 1.8)));
  AGES_B.forEach((d, k) => series.push(lineSeries('B ' + AGE_LABELS[k], 1, d, AGE_COLORS[k], 1.8)));
  FQ_SERIES.forEach((d, k) => series.push(lineSeries('C f' + FQ_LABELS[k], 2, d, FQ_COLORS[k], 1.7)));
  series.push(lineSeries('C Ye', 2, yeEtAl2025, '#33cc33', 2.8, [8, 4]));
  series.push(bandSeries(3, agnHigh, agnLow));
  series.push(lineSeries('D lo', 3, agnLow, '#ff2a2a', 0.9, [4, 2.5], false));
  series.push(lineSeries('D hi', 3, agnHigh, '#ff2a2a', 0.9, [4, 2.5], false));
  series.push(lineSeries('D ci', 3, gwLow90, '#000000', 0.9, [4, 2.5]));
  series.push(lineSeries('D ci', 3, gwHigh90, '#000000', 0.9, [4, 2.5]));
  series.push(lineSeries('D med', 3, gwMedian, '#000000', 2.0));
  series.push(lineSeries('D mid', 3, agnMid, '#ff0000', 2.4));

  const legend = [
    legendBox(AGE_LABELS.map((l) => ({ name: 'A ' + l, width: 2 })), { left: 372, top: 62, itemWidth: 27, itemHeight: 12, itemGap: 6.5, padding: [5.3, 5, 2.9, 4], fontSize: 12, gap: 5.7 }),
    legendBox(AGE_LABELS.map((l) => ({ name: 'B ' + l, width: 2 })), { left: 891, top: 66, itemWidth: 24, itemHeight: 11, itemGap: 5.57, padding: [3.5, 5, 5.2, 4], fontSize: 11, gap: 3.7 }),
    legendBox(FQ_LABELS.map((v) => ({ name: 'C f' + v, width: 1.8 })).concat([{ name: 'C Ye', width: 2.8 }]), { left: 357, top: 363, itemWidth: 25, itemHeight: 13, itemGap: 4.2, padding: [2.9, 5, 5.8, 4], fontSize: 11, gap: 3.6 }),
    legendBox([{ name: 'D med', width: 2 }, { name: 'D ci', width: 0.9 }, { name: 'D lo', width: 0.9 }, { name: 'D hi', width: 0.9 }, { name: 'D mid', width: 2.4 }], { left: 842, top: 360, itemWidth: 21, itemHeight: 13, itemGap: 1.2, padding: [0.5, 4, 2.5, 2.5], fontSize: 9.5, gap: 1 }),
  ];

  return {
    animation: false,
    backgroundColor: '#ffffff',
    textStyle: { fontFamily: FONT },
    grid, xAxis, yAxis, series, legend,
    graphic: [
      { type: 'text', left: 998, top: 3, style: { text: '9', fontFamily: 'Liberation Serif', fontSize: 15, fill: '#000' } },
    ],
  };
}

export default function App() {
  const ref = useRef<HTMLDivElement>(null);
  useEffect(() => {
    if (!ref.current) return;
    const chart = echarts.init(ref.current, undefined, { renderer: 'svg' });
    chart.setOption(buildOption() as any);
    return () => chart.dispose();
  }, []);
  return <div ref={ref} style={{ position: 'fixed', left: 0, top: 0, width: 1015, height: 632, background: '#fff' }} />;
}
